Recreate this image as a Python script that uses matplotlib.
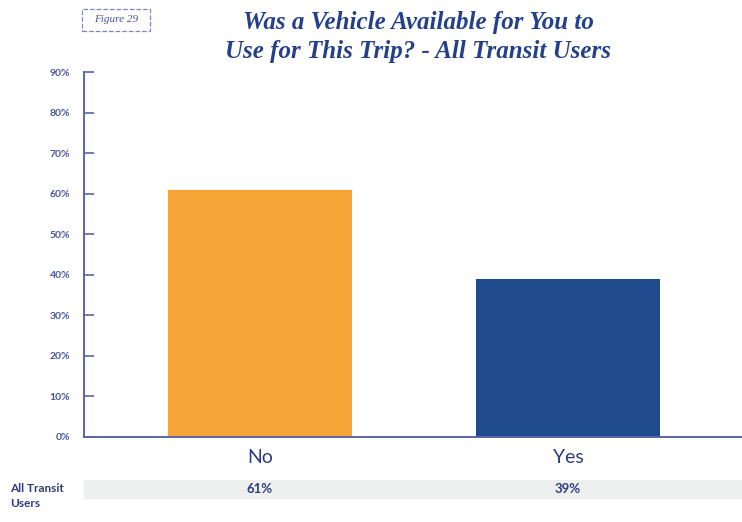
import matplotlib.pyplot as plt
from matplotlib.patches import FancyBboxPatch

categories = ['No', 'Yes']
values = [61, 39]
row_label = 'All Transit\nUsers'
bar_colors = ['#F5A535', '#1F4A8C']
yticks = [0, 10, 20, 30, 40, 50, 60, 70, 80, 90]

axis_col = '#5a64a8'
text_col = '#2b3d80'

plt.rcParams['font.family'] = ['Lato', 'DejaVu Sans']

fig = plt.figure(figsize=(7.42, 5.22), dpi=100)
ax = fig.add_axes([84 / 742, 1 - 437 / 522, 658 / 742, (437 - 72) / 522])

x = range(len(categories))
ax.bar(x, values, width=0.597, color=bar_colors)
ax.set_xlim(-0.571, 1.565)
ax.set_ylim(0, 90)

ax.set_yticks(yticks)
ax.set_yticklabels([f'{t}%' for t in yticks], fontsize=7.5, fontweight='bold', color='#4a5599')
ax.tick_params(axis='y', direction='in', length=7, width=1.2, color=axis_col, pad=10)
ax.set_xticks([])
for s in ['top', 'right']:
    ax.spines[s].set_visible(False)
for s in ['left', 'bottom']:
    ax.spines[s].set_color(axis_col)
    ax.spines[s].set_linewidth(1.4)

for i, c in enumerate(categories):
    ax.text(i, -5.0, c, ha='center', va='center', fontsize=14, color=text_col)
    ax.text(i, -12.8, f'{values[i]}%', ha='center', va='center', fontsize=9.5,
            fontweight='bold', color=text_col, zorder=5)

# gray table row band
fig.patches.append(plt.Rectangle((84 / 742, 1 - 498 / 522), 658 / 742, 18 / 522,
                                 transform=fig.transFigure, color='#eef0ef', zorder=-5))
fig.text(10 / 742, 1 - 496 / 522, row_label, ha='left', va='center', fontsize=8.5,
         fontweight='bold', color=text_col, linespacing=1.55)

fig.text(418 / 742, 1 - 37 / 522, 'Was a Vehicle Available for You to\nUse for This Trip? - All Transit Users',
         ha='center', va='center', fontsize=18, fontweight='bold', style='italic',
         family='Liberation Serif', color='#24408a', linespacing=1.35)

# "Figure 29" tag
fig.patches.append(FancyBboxPatch((82 / 742, 1 - 31 / 522), 68 / 742, 22 / 522,
                                  boxstyle='square,pad=0', transform=fig.transFigure,
                                  fill=False, edgecolor='#7d86bb', linestyle='--', linewidth=0.9))
fig.text(116 / 742, 1 - 20 / 522, 'Figure 29', ha='center', va='center', fontsize=8,
         style='italic', family='Liberation Serif', color='#4a5599')

fig.savefig('out.png', dpi=100, facecolor='white')
